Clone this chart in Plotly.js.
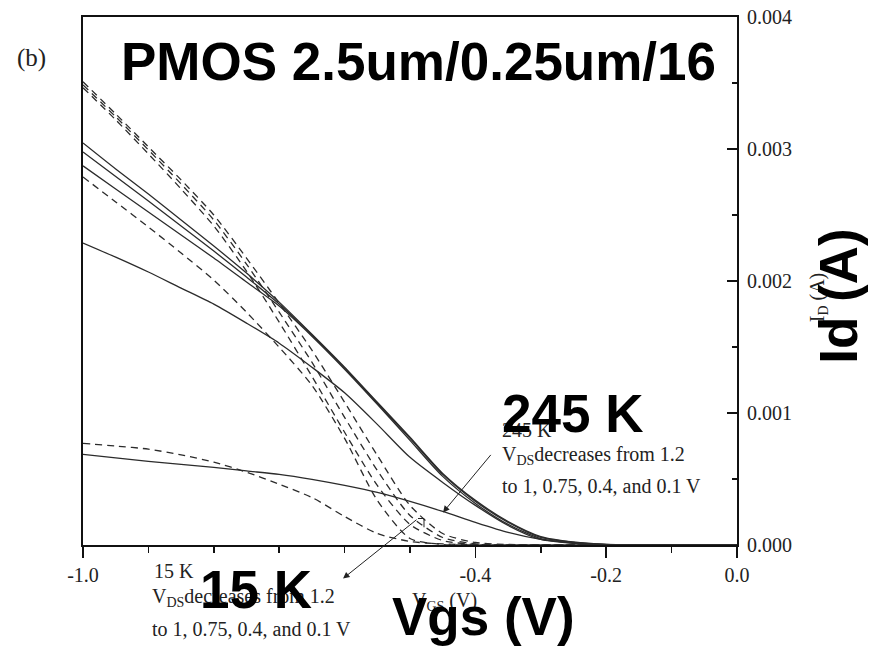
<!DOCTYPE html>
<html>
<head>
<meta charset="utf-8">
<script src="https://cdn.plot.ly/plotly-3.0.1.min.js"></script>
<style>html,body{margin:0;padding:0;background:#fff;}#chart{width:879px;height:649px;}</style>
</head>
<body>
<div id="chart"></div>
<script>
// Gate voltage (V)
const vgs = [-1.0,-0.95,-0.9,-0.85,-0.8,-0.75,-0.7,-0.65,-0.6,-0.55,-0.5,-0.45,-0.4,-0.35,-0.3,-0.25,-0.2,-0.15,-0.1,-0.05,0.0];

// 245 K drain current (mA), VDS = 1.2, 1, 0.75, 0.4, 0.1 V (solid)
const id245_12  = [3.046,2.849,2.659,2.462,2.265,2.060,1.840,1.597,1.347,1.081,0.816,0.542,0.338,0.178,0.064,0.023,0.005,0.001,0.0002,0,0];
const id245_10  = [2.978,2.792,2.606,2.417,2.227,2.030,1.825,1.590,1.340,1.074,0.808,0.535,0.330,0.171,0.057,0.020,0.004,0.001,0,0,0];
const id245_075 = [2.872,2.697,2.523,2.348,2.174,1.992,1.810,1.582,1.332,1.066,0.793,0.520,0.315,0.156,0.049,0.017,0.003,0.001,0,0,0];
const id245_04  = [2.288,2.181,2.068,1.946,1.825,1.681,1.529,1.347,1.153,0.914,0.664,0.474,0.300,0.148,0.042,0.013,0.002,0.0005,0,0,0];
const id245_01  = [0.687,0.660,0.634,0.611,0.588,0.561,0.535,0.497,0.451,0.398,0.330,0.254,0.171,0.095,0.042,0.015,0.003,0.0005,0,0,0];

// 15 K drain current (mA), VDS = 1.2, 1, 0.75, 0.4, 0.1 V (dashed)
const id15_12  = [3.509,3.266,3.016,2.766,2.500,2.174,1.832,1.476,1.081,0.679,0.300,0.087,0.019,0.004,0,0,0,0,0,0,0];
const id15_10  = [3.486,3.244,2.993,2.735,2.462,2.128,1.764,1.385,0.967,0.565,0.224,0.057,0.008,0.002,0,0,0,0,0,0,0];
const id15_075 = [3.464,3.221,2.963,2.697,2.417,2.075,1.688,1.278,0.854,0.451,0.156,0.034,0.004,0,0,0,0,0,0,0,0];
const id15_04  = [2.788,2.599,2.409,2.212,2.007,1.764,1.498,1.210,0.808,0.338,0.049,0.004,0,0,0,0,0,0,0,0,0];
const id15_01  = [0.770,0.750,0.726,0.683,0.628,0.552,0.460,0.360,0.216,0.087,0.027,0.008,0.002,0,0,0,0,0,0,0,0];

const xTickVals = [-1.0,-0.4,-0.2,0.0];
const xTickText = ["-1.0","-0.4","-0.2","0.0"];
const xMinorVals = [-0.9,-0.8,-0.7,-0.6,-0.5,-0.3,-0.1];
const yTickVals = [0,0.001,0.002,0.003,0.004];
const yMinorVals = [0.0005,0.0015,0.0025,0.0035];

const toA = arr => arr.map(v => v * 1e-3);
const lineCol = '#2b2b2b';
function solid(y){ return {x: vgs, y: toA(y), type:'scatter', mode:'lines',
  line:{color:lineCol, width:1.3, shape:'spline', smoothing:0.7}, hoverinfo:'skip'}; }
function dashed(y){ return {x: vgs, y: toA(y), type:'scatter', mode:'lines',
  line:{color:lineCol, width:1.3, dash:'7px,5px', shape:'spline', smoothing:0.7}, hoverinfo:'skip'}; }

const data = [
  solid(id245_12), solid(id245_10), solid(id245_075), solid(id245_04), solid(id245_01),
  dashed(id15_12), dashed(id15_10), dashed(id15_075), dashed(id15_04), dashed(id15_01)
];

const serif = 'Liberation Serif, Times New Roman, serif';
const sans = 'Liberation Sans, Arial, sans-serif';
const small = {family: serif, size: 20, color: '#222'};
const big = {family: sans, size: 53, color: '#000', weight: 'bold'};

function txt(text, x, y, font, opts){
  return Object.assign({text: text, x: x, y: y, xref:'paper', yref:'paper', showarrow:false,
    font: font, xanchor:'center', yanchor:'middle'}, opts || {});
}

const annotations = [
  txt('(b)', -0.0795, 0.9223, {family: serif, size: 25, color:'#222'}),
  // small original texts
  txt('245 K', 0.6376, 0.217, small, {xanchor:'left'}),
  txt('V<sub>DS</sub>decreases from 1.2', 0.6376, 0.1697, small, {xanchor:'left'}),
  txt('to 1, 0.75, 0.4, and 0.1 V', 0.6376, 0.1109, small, {xanchor:'left'}),
  txt('15 K', 0.1055, -0.0483, small, {xanchor:'left'}),
  txt('V<sub>DS</sub>decreases from 1.2', 0.1024, -0.0995, small, {xanchor:'left'}),
  txt('to 1, 0.75, 0.4, and 0.1 V', 0.1024, -0.1583, small, {xanchor:'left'}),
  txt('V<sub>GS</sub> (V)', 0.552, -0.1071, small),
  txt('I<sub>D</sub> (A)', 1.1239, 0.4692, small, {textangle:-90}),
  // big overlay texts
  txt('PMOS 2.5um/0.25um/16', 0.513, 0.9166, big),
  txt('245 K', 0.7492, 0.2487, big),
  txt('15 K', 0.2645, -0.0844, big),
  txt('Vgs (V)', 0.6131, -0.1346, big),
  txt('Id (A)', 1.1552, 0.4711, big, {textangle:-90}),
  // arrows
  {x: -0.4495, y: 0.000247, xref:'x', yref:'y', ax: 49, ay: -59, text:'', showarrow:true,
   arrowhead:2, arrowsize:1.3, arrowwidth:1, arrowcolor:'#222'},
  {x: 0.3976, y: -0.0635, xref:'paper', yref:'paper', ax: 75, ay: -60, text:'', showarrow:true,
   arrowhead:2, arrowsize:1.3, arrowwidth:1, arrowcolor:'#222'}
];

const layout = {
  width: 879, height: 649,
  margin: {l: 83, r: 142, t: 17, b: 104, pad: 0},
  paper_bgcolor: '#fff', plot_bgcolor: '#fff',
  showlegend: false, hovermode: false,
  xaxis: {
    range: [-1, 0], showgrid: false, zeroline: false,
    showline: true, linecolor: '#111', linewidth: 2, mirror: true,
    tickmode: 'array', tickvals: xTickVals, ticktext: xTickText,
    ticks: 'outside', ticklen: 11, tickwidth: 1.5, tickcolor: '#111',
    minor: {tickmode: 'array', tickvals: xMinorVals, ticks: 'outside', ticklen: 6, tickwidth: 1.5, tickcolor: '#111', showgrid: false},
    tickfont: {family: serif, size: 20, color: '#222'}
  },
  yaxis: {
    range: [0, 0.004], side: 'right', showgrid: false, zeroline: false,
    showline: true, linecolor: '#111', linewidth: 2, mirror: true,
    tickmode: 'array', tickvals: yTickVals, tickformat: '.3f',
    ticks: 'inside', ticklen: 10, tickwidth: 1.5, tickcolor: '#111',
    minor: {tickmode: 'array', tickvals: yMinorVals, ticks: 'inside', ticklen: 5, tickwidth: 1.5, tickcolor: '#111', showgrid: false},
    tickfont: {family: serif, size: 20, color: '#222'},
    ticklabelstandoff: 4
  },
  shapes: [
    {type:'line', xref:'paper', yref:'paper', x0:0.5122, y0:0.0502, x1:0.5214, y1:0.0502, line:{color:'#222', width:1}},
    {type:'line', xref:'paper', yref:'paper', x0:0.5214, y0:0.0502, x1:0.5214, y1:0.0335, line:{color:'#222', width:1}}
  ],
  annotations: annotations
};

Plotly.newPlot('chart', data, layout, {staticPlot: true, displayModeBar: false});
</script>
</body>
</html>
